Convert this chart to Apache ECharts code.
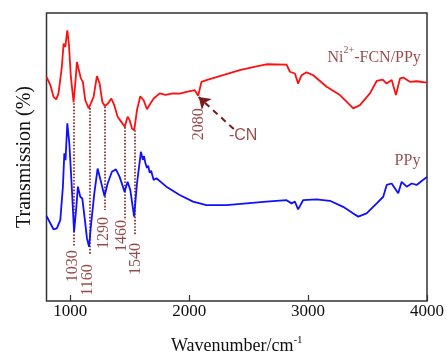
<!DOCTYPE html>
<html>
<head>
<meta charset="utf-8">
<script src="https://cdn.jsdelivr.net/npm/echarts@6/dist/echarts.min.js"></script>
<style>
  html, body { margin: 0; padding: 0; background: #fff; }
  #chart { width: 447px; height: 353px; }
</style>
</head>
<body>
<div id="chart"></div>
<script>
// FTIR spectra (wavenumber in cm-1, transmission in arbitrary %)
const redWn = [800, 832, 859, 882, 901, 929, 944, 958, 975, 988, 1005, 1028, 1042, 1056, 1072, 1089, 1106, 1126, 1155, 1173,
  1196, 1224, 1247, 1269, 1290, 1317, 1345, 1370, 1398, 1429, 1458, 1482, 1499, 1519, 1538, 1561, 1589, 1617, 1645, 1674,
  1701, 1752, 1800, 1864, 1920, 1977, 2047, 2076, 2103, 2145, 2285, 2425, 2566, 2650, 2819, 2847, 2889, 2916, 2945, 2987, 3043, 3156,
  3268, 3380, 3436, 3520, 3577, 3627, 3661, 3703, 3739, 3773, 3800, 3857, 3913, 4000]
const redT = [77.8, 75.0, 70.9, 70.0, 72.1, 81.3, 89.4, 88.2, 94.0, 89.4, 77.8, 69.0, 75.5, 83.0, 80.2, 77.3, 76.1, 69.7, 66.9, 68.6,
  70.9, 78.1, 75.5, 69.2, 67.7, 68.6, 70.3, 68.0, 64.0, 62.2, 60.5, 64.0, 62.8, 59.9, 59.3, 66.3, 71.1, 69.7, 66.6, 68.6,
  70.3, 72.1, 71.6, 72.1, 72.0, 72.6, 73.2, 71.3, 76.1, 76.7, 78.4, 80.2, 81.5, 82.2, 82.1, 79.6, 79.0, 75.5, 78.4, 79.4, 78.4, 74.4,
  71.5, 66.9, 68.0, 72.1, 76.4, 76.9, 75.5, 76.7, 71.5, 77.3, 77.6, 76.1, 76.3, 75.8]

const blueWn = [800, 832, 859, 887, 916, 938, 950, 960, 975, 992, 1011, 1032, 1051, 1064, 1084, 1101, 1123, 1140, 1158, 1173,
  1202, 1230, 1258, 1288, 1314, 1350, 1384, 1415, 1457, 1482, 1505, 1537, 1561, 1594, 1610, 1620, 1632, 1645, 1655, 1668,
  1680, 1701, 1724, 1808, 1920, 2032, 2145, 2314, 2482, 2650, 2819, 2861, 2889, 2916, 2958, 3071, 3183, 3295, 3380, 3422,
  3492, 3577, 3632, 3661, 3703, 3731, 3758, 3787, 3829, 3871, 3913, 3950, 4000]
const blueT = [29.5, 27.0, 24.9, 25.2, 28.1, 39.7, 51.3, 48.9, 61.7, 54.7, 40.8, 24.0, 32.7, 39.7, 36.2, 35.6, 28.1, 21.8, 18.8, 25.8,
  37.4, 46.0, 41.4, 36.4, 40.8, 44.9, 45.7, 43.1, 37.9, 41.4, 38.5, 29.3, 40.8, 51.8, 49.0, 50.3, 47.8, 46.2, 47.0, 44.5,
  45.2, 42.0, 42.6, 39.7, 36.8, 34.5, 33.3, 33.3, 33.9, 34.5, 35.0, 33.9, 34.5, 31.8, 35.0, 35.3, 34.8, 32.7, 30.4, 29.3,
  30.4, 33.9, 36.2, 40.3, 40.8, 39.1, 37.4, 41.4, 39.7, 40.8, 40.3, 41.5, 43.1]

const xTicks = [1000, 2000, 3000, 4000]

// marked bands: dotted drop lines from the red trough down through the blue trough
const peakWn = [1030, 1160, 1290, 1460, 1540]
const peakTop = [68.7, 67.0, 67.5, 60.4, 59.3]
const peakBottom = [18.7, 16.0, 31.6, 28.1, 22.9]
// where each rotated peak label sits
const peakLabelWn = [1020, 1146, 1280, 1431, 1554]
const peakLabelT = [12.1, 7.3, 23.6, 22.6, 14.6]

// -CN annotation: arrow from the label up to the 2080 dip
const cnArrowFrom = [2375, 59.7]
const cnArrowTo = [2080, 70.8]
const cnLabel = [2454, 57.3]
const cnPeakLabel = [2085, 61.4]

const redName = [3556, 84.3]
const blueName = [3836, 48.6]

const SERIF = "'Liberation Serif', 'Times New Roman', serif"
const MARK = '#7d1a1a'

const zip = (xs, ys) => xs.map((x, i) => [x, ys[i]])

const chart = echarts.init(document.getElementById('chart'))

chart.setOption({
  animation: false,
  backgroundColor: '#fff',
  grid: {
    left: 46.5, right: 20, top: 13, bottom: 52,
    outerBoundsMode: 'none',
    show: true, borderColor: '#333', borderWidth: 1.5,
  },
  xAxis: {
    type: 'value',
    min: 800,
    max: 4000,
    name: '{a|Wavenumber/cm}{s|-1}',
    nameLocation: 'middle',
    nameGap: 34,
    nameTextStyle: {
      rich: {
        a: { fontFamily: SERIF, fontSize: 18, color: '#111' },
        s: { fontFamily: SERIF, fontSize: 11, color: '#111', padding: [0, 0, 12, 0] },
      },
    },
    axisLine: { show: false },
    axisTick: { show: true, inside: true, length: 6, customValues: xTicks, lineStyle: { color: '#333', width: 1.2 } },
    axisLabel: {
      customValues: xTicks,
      margin: 2,
      formatter: (v) => String(v),
      fontFamily: SERIF,
      fontSize: 17,
      color: '#111',
    },
    splitLine: { show: false },
  },
  yAxis: {
    type: 'value',
    min: 0,
    max: 100,
    name: 'Transmission (%)',
    nameLocation: 'middle',
    nameGap: 12,
    nameTextStyle: { fontFamily: SERIF, fontSize: 20, color: '#111' },
    axisLine: { show: false },
    axisTick: { show: false },
    axisLabel: { show: false },
    splitLine: { show: false },
  },
  series: [
    {
      name: 'PPy',
      type: 'line',
      data: zip(blueWn, blueT),
      symbol: 'none',
      lineStyle: { color: '#1010ff', width: 1.8 },
      z: 3,
    },
    {
      name: 'Ni2+-FCN/PPy',
      type: 'line',
      data: zip(redWn, redT),
      symbol: 'none',
      lineStyle: { color: '#ff1010', width: 1.8 },
      z: 3,
    },
    {
      // dotted drop lines at the marked bands
      type: 'lines',
      coordinateSystem: 'cartesian2d',
      data: peakWn.map((w, i) => ({ coords: [[w, peakTop[i]], [w, peakBottom[i]]] })),
      symbol: 'none',
      lineStyle: { color: MARK, width: 1.6, type: 'dotted', opacity: 1 },
      z: 2,
    },
    {
      // dashed arrow pointing to the -CN band
      type: 'lines',
      coordinateSystem: 'cartesian2d',
      data: [{ coords: [cnArrowFrom, cnArrowTo] }],
      symbol: ['none', 'arrow'],
      symbolSize: 11,
      lineStyle: { color: MARK, width: 2, type: [6, 5], opacity: 1 },
      z: 4,
    },
    {
      // rotated wavenumber labels
      type: 'scatter',
      symbolSize: 0,
      silent: true,
      data: peakWn.map((w, i) => [peakLabelWn[i], peakLabelT[i], String(w)])
        .concat([[cnPeakLabel[0], cnPeakLabel[1], '2080']]),
      label: {
        show: true,
        position: 'inside',
        rotate: 90,
        align: 'center',
        verticalAlign: 'middle',
        formatter: (p) => p.value[2],
        fontFamily: SERIF,
        fontSize: 16,
        color: MARK,
      },
      z: 5,
    },
    {
      // series names and the -CN note
      type: 'scatter',
      symbolSize: 0,
      silent: true,
      data: [
        { value: [redName[0], redName[1]], label: { formatter: '{a|Ni}{s|2+}{a|-FCN/PPy}' } },
        { value: [blueName[0], blueName[1]], label: { formatter: '{a|PPy}' } },
        { value: [cnLabel[0], cnLabel[1]], label: { formatter: '{c|-CN}' } },
      ],
      label: {
        show: true,
        position: 'inside',
        align: 'center',
        verticalAlign: 'middle',
        rich: {
          a: { fontFamily: SERIF, fontSize: 16, color: MARK, lineHeight: 18 },
          s: { fontFamily: SERIF, fontSize: 10, color: MARK, lineHeight: 12, padding: [0, 0, 16, 0] },
          c: { fontFamily: "'Liberation Sans', Arial, sans-serif", fontSize: 16, color: MARK },
        },
      },
      z: 5,
    },
  ],
})
</script>
</body>
</html>
